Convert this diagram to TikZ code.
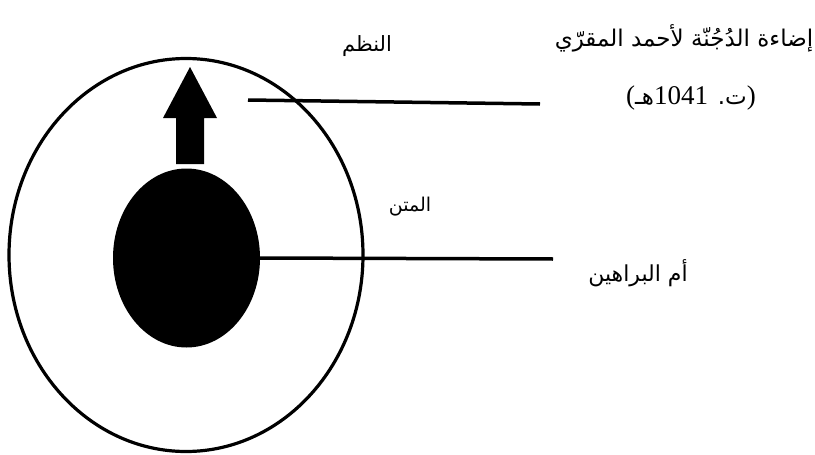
\documentclass[tikz,border=0pt]{standalone}
\usepackage{fontspec}
\usetikzlibrary{shapes.geometric}
\newfontfamily\arabicfont[Script=Arabic]{DejaVu Sans}
\newfontfamily\latinserif{Liberation Serif}
\newcommand\latnum[1]{{\latinserif\fontsize{27}{29}\selectfont #1}}
\TeXXeTstate=1
\begin{document}
\begin{tikzpicture}[x=1pt,y=-1pt,
  ring/.style={ellipse,draw=black,line width=3.2pt,inner sep=0pt,minimum width=354pt,minimum height=393pt},
  core/.style={ellipse,fill=black,inner sep=0pt,minimum width=147pt,minimum height=179pt},
  leader/.style={line width=3.5pt},
  lab/.style={font=\arabicfont\fontsize{21}{24}\selectfont,inner sep=0pt,anchor=center},
  title/.style={font=\arabicfont\fontsize{23}{28}\selectfont,inner sep=0pt,anchor=center}]
\useasboundingbox[fill=white] (0,0) rectangle (815,455);
\node[ring] (outer) at (186,255) {};
\node[core] (core) at (186.5,258) {};
\fill[black] (176,164) -- (204,164) -- (204,118) -- (217,118) -- (190,67) -- (163,118) -- (176,118) -- cycle;
\coordinate (a1) at (248,100);
\coordinate (b1) at (540,104);
\coordinate (e2) at (553,259);
\draw[leader] (a1) -- (b1);
\draw[leader] (core.east) -- (e2);
\node[lab] (nazm) at (367,46) {\beginR النظم\endR};
\node[lab,font=\arabicfont\fontsize{19}{22}\selectfont] (matn) at (410,207) {\beginR المتن\endR};
\node[lab,font=\arabicfont\fontsize{22}{26}\selectfont] (umm) at (638,273) {\beginR أم البراهين\endR};
\node[title] (t1) at (684,38) {\beginR إضاءة الدُجُنّة لأحمد المقرّي\endR};
\node[title] (t2) at (691,98) {\beginR\latnum{)}ت. \beginL\latnum{1041}\endL{}هـ\latnum{(}\endR};
\end{tikzpicture}
\end{document}
